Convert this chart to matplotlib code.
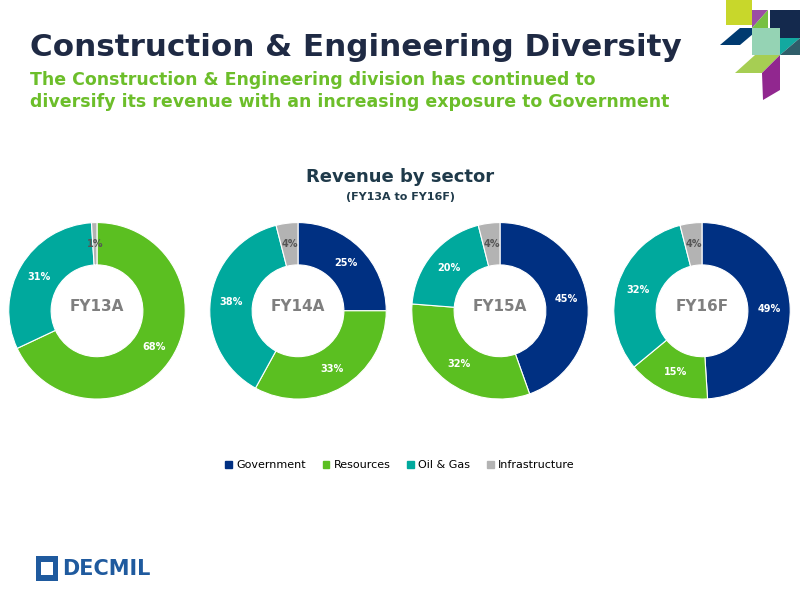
import matplotlib
matplotlib.use("Agg")
import matplotlib.pyplot as plt
import numpy as np
from matplotlib.patches import Polygon, Rectangle

years = ["FY13A", "FY14A", "FY15A", "FY16F"]
sectors = ["Government", "Resources", "Oil & Gas", "Infrastructure"]
government = [0, 25, 45, 49]
resources = [68, 33, 32, 15]
oil_gas = [31, 38, 20, 32]
infrastructure = [1, 4, 4, 4]
colors = ["#003082", "#5BBF21", "#00A99D", "#B3B3B3"]

fig = plt.figure(figsize=(8, 6), dpi=100)
fig.patch.set_facecolor("white")

fig.text(0.037, 0.92, "Construction & Engineering Diversity", fontsize=22.3, fontweight="bold",
         color="#1F2A44", va="center", family="DejaVu Sans")
fig.text(0.037, 0.848, "The Construction & Engineering division has continued to\ndiversify its revenue with an increasing exposure to Government",
         fontsize=12.5, fontweight="bold", color="#6CBE2A", va="center", linespacing=1.3)
fig.text(0.5, 0.705, "Revenue by sector", fontsize=13, fontweight="bold", color="#1F3A4A", ha="center", va="center")
fig.text(0.5, 0.672, "(FY13A to FY16F)", fontsize=8, fontweight="bold", color="#1F3A4A", ha="center", va="center")

centers = [97, 298, 500, 702]
for i, yr in enumerate(years):
    vals = [government[i], resources[i], oil_gas[i], infrastructure[i]]
    cx = centers[i] / 800
    ax = fig.add_axes([cx - 0.1125, 0.482 - 0.15, 0.225, 0.30])
    ax.set_aspect("equal")
    wedges, texts = ax.pie(vals, colors=colors, startangle=90, counterclock=False,
                           wedgeprops=dict(width=0.48, edgecolor="white", linewidth=0.8))
    for w, v in zip(wedges, vals):
        if v <= 0:
            continue
        ang = np.deg2rad((w.theta1 + w.theta2) / 2)
        r = 0.76
        col = "#555555" if w.get_facecolor()[0] > 0.6 else "white"
        ax.text(r * np.cos(ang), r * np.sin(ang), f"{v}%", ha="center", va="center",
                fontsize=7, fontweight="bold", color=col)
    ax.text(0, 0.05, yr, ha="center", va="center", fontsize=11, fontweight="bold", color="#7F7F7F")
    ax.set_xlim(-1.02, 1.02)
    ax.set_ylim(-1.02, 1.02)

lax = fig.add_axes([0, 0.21, 1, 0.03])
lax.axis("off")
handles = [Rectangle((0, 0), 1, 1, color=c) for c in colors]
lax.legend(handles, sectors, loc="center", ncol=4, frameon=False, fontsize=8,
           handlelength=0.6, handleheight=0.6, columnspacing=1.5, handletextpad=0.4)

oax = fig.add_axes([0, 0, 1, 1], zorder=-1)
oax.set_xlim(0, 800); oax.set_ylim(600, 0); oax.axis("off")
polys = [
    ([(726, 0), (752, 0), (752, 25), (726, 25)], "#C8D72B"),
    ([(752, 10), (768, 10), (752, 28)], "#9B4DA5"),
    ([(768, 10), (752, 28), (768, 28)], "#77C043"),
    ([(770, 10), (800, 10), (800, 38), (770, 38)], "#14294D"),
    ([(720, 45), (740, 28), (760, 28), (740, 45)], "#003A70"),
    ([(752, 28), (780, 28), (780, 55), (752, 55)], "#95D3B4"),
    ([(780, 38), (800, 38), (780, 55)], "#13A9A0"),
    ([(800, 38), (800, 55), (780, 55)], "#2F5E6A"),
    ([(735, 73), (755, 55), (780, 55), (762, 73)], "#A6CE53"),
    ([(762, 73), (780, 55), (780, 90), (763, 100)], "#91278F"),
]
for pts, c in polys:
    oax.add_patch(Polygon(pts, closed=True, color=c, lw=0))
oax.add_patch(Rectangle((36, 556), 22, 25, color="#1F5A9E", lw=0))
oax.add_patch(Rectangle((41, 562), 12, 13, facecolor="white", lw=0))
oax.text(62, 569, "DECMIL", fontsize=15, fontweight="bold", color="#1F5A9E", va="center",
         ha="left", family="Liberation Sans Narrow")

fig.savefig("out.png", dpi=100, facecolor="white")
